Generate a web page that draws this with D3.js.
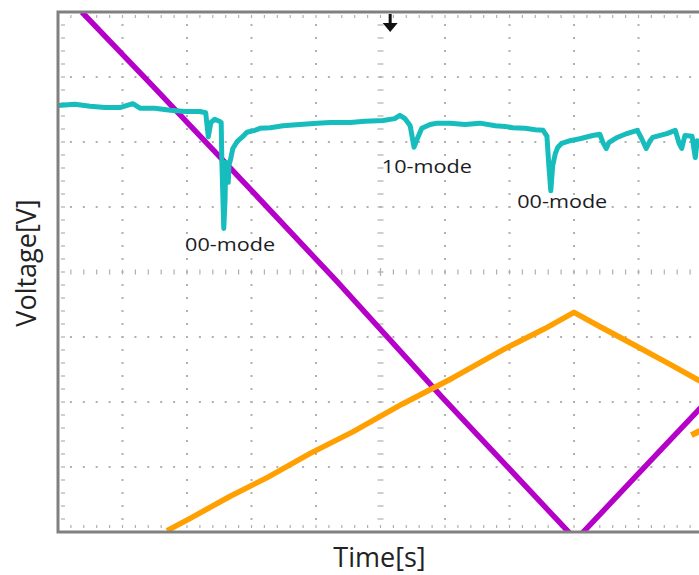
<!DOCTYPE html>
<html>
<head>
<meta charset="utf-8">
<script src="https://cdn.jsdelivr.net/npm/d3@7"></script>
<style>
  body { margin: 0; background: #fff; }
  svg { display: block; }
</style>
</head>
<body>
<div id="chart"></div>
<script>
// time in divisions, voltage in divisions (8 x 10 screen)
const cyanTrace = [
  [0.00,2.56],[0.26,2.58],[0.50,2.55],[0.73,2.53],[0.96,2.53],[1.16,2.59],[1.27,2.52],
  [1.50,2.52],[1.74,2.49],[1.97,2.47],[2.20,2.47],[2.29,2.45],[2.33,2.08],[2.37,2.30],
  [2.43,2.35],[2.50,2.32],[2.53,2.30],[2.54,1.72],[2.57,0.67],[2.59,1.10],[2.60,1.69],
  [2.62,1.56],[2.64,1.38],[2.65,1.64],[2.68,1.75],[2.71,1.90],[2.78,2.01],[2.85,2.07],
  [2.93,2.15],[3.05,2.18],[3.13,2.21],[3.29,2.22],[3.49,2.25],[3.75,2.27],[4.02,2.29],
  [4.22,2.30],[4.53,2.30],[4.76,2.32],[5.04,2.33],[5.22,2.36],[5.30,2.41],[5.38,2.36],
  [5.46,2.25],[5.52,1.92],[5.57,2.05],[5.64,2.21],[5.77,2.27],[5.88,2.29],[6.08,2.29],
  [6.31,2.27],[6.54,2.29],[6.78,2.25],[6.93,2.24],[7.05,2.22],[7.24,2.21],[7.40,2.19],
  [7.52,2.18],[7.58,2.09],[7.61,1.64],[7.64,1.25],[7.67,1.64],[7.71,1.82],[7.75,1.92],
  [7.81,1.98],[7.94,2.02],[8.09,2.05],[8.29,2.10],[8.40,2.12],[8.45,1.99],[8.50,1.90],
  [8.54,1.99],[8.67,2.07],[8.82,2.13],[8.98,2.18],[9.05,2.05],[9.12,1.90],[9.18,2.02],
  [9.22,2.07],[9.44,2.13],[9.57,2.18],[9.63,1.98],[9.67,1.90],[9.72,2.10],[9.83,2.09],
  [9.88,1.76],[9.91,2.02],[9.94,1.99],[10.0,2.00]
];

const magentaTrace = [
  [0.37,4.00],[1.46,2.87],[2.90,1.36],[4.31,-0.13],[5.95,-1.92],[8.03,-4.12],[9.02,-3.08],[10.0,-2.05]
];

const orangeTrace = [
  [1.69,-3.98],[2.05,-3.79],[2.67,-3.45],[3.25,-3.16],[3.91,-2.79],[4.57,-2.46],
  [5.34,-2.03],[6.12,-1.63],[6.91,-1.19],[7.55,-0.87],[8.00,-0.62],[8.42,-0.85],
  [8.95,-1.13],[9.49,-1.42],[9.94,-1.67],[10.0,-1.70]
];

const orangeTail = [[9.82,-2.51],[9.94,-2.45],[10.0,-2.43]];

const labels = [
  {text: '00-mode', t: 1.97, v: 0.33},
  {text: '10-mode', t: 5.02, v: 1.53},
  {text: '00-mode', t: 7.12, v: 0.99}
];

const triggerTime = 5.15;
const xDivs = 10, yDivs = 8, minorPerDiv = 5;

const width = 699, height = 575;
const frame = {left: 58, top: 12, right: 703, bottom: 532};

const svg = d3.select('#chart').append('svg')
  .attr('width', width)
  .attr('height', height)
  .attr('viewBox', `0 0 ${width} ${height}`);

const x = d3.scaleLinear().domain([0, xDivs]).range([frame.left, frame.right]);
const y = d3.scaleLinear().domain([-yDivs / 2, yDivs / 2]).range([frame.bottom, frame.top]);

svg.append('clipPath').attr('id', 'plot')
  .append('rect')
    .attr('x', frame.left).attr('y', frame.top)
    .attr('width', frame.right - frame.left)
    .attr('height', frame.bottom - frame.top);

// grid: dotted majors, ticked centre lines
const minorX = d3.range(0, xDivs * minorPerDiv + 1).map(i => i / minorPerDiv);
const minorY = d3.range(0, yDivs * minorPerDiv + 1).map(i => -yDivs / 2 + i / minorPerDiv);
const majorX = d3.range(1, xDivs).filter(d => d !== xDivs / 2);
const majorY = d3.range(-yDivs / 2 + 1, yDivs / 2).filter(d => d !== 0);

const grid = svg.append('g').attr('fill', '#b0b0b0');

majorY.forEach(v => {
  grid.selectAll(null).data(minorX.slice(1, -1)).join('rect')
    .attr('x', d => x(d) - 1).attr('y', y(v) - 1)
    .attr('width', 2).attr('height', 2);
});
majorX.forEach(t => {
  grid.selectAll(null).data(minorY.slice(1, -1)).join('rect')
    .attr('x', x(t) - 1).attr('y', d => y(d) - 1)
    .attr('width', 2).attr('height', 2);
});

const ticks = svg.append('g').attr('stroke', '#b0b0b0').attr('stroke-width', 1.2);

// centre horizontal line
ticks.selectAll(null).data(minorX.slice(1, -1)).join('line')
  .attr('x1', d => x(d)).attr('x2', d => x(d))
  .attr('y1', y(0) - 2.5).attr('y2', y(0) + 2.5);
// centre vertical line
ticks.selectAll(null).data(minorY.slice(1, -1)).join('line')
  .attr('x1', x(xDivs / 2) - 3).attr('x2', x(xDivs / 2) + 3)
  .attr('y1', d => y(d)).attr('y2', d => y(d));
ticks.append('line')
  .attr('x1', x(xDivs / 2)).attr('x2', x(xDivs / 2))
  .attr('y1', y(0) - 4).attr('y2', y(0) + 4);

// border ticks
ticks.selectAll(null).data(minorY.slice(1, -1)).join('line')
  .attr('x1', frame.left + 3).attr('x2', frame.left + 7)
  .attr('y1', d => y(d)).attr('y2', d => y(d));
ticks.selectAll(null).data(minorX.slice(1, -1)).join('line')
  .attr('x1', d => x(d)).attr('x2', d => x(d))
  .attr('y1', frame.top + 3).attr('y2', frame.top + 6);
ticks.selectAll(null).data(minorX.slice(1, -1)).join('line')
  .attr('x1', d => x(d)).attr('x2', d => x(d))
  .attr('y1', frame.bottom - 7).attr('y2', frame.bottom - 4);

// traces
const line = d3.line().x(d => x(d[0])).y(d => y(d[1]));

const traces = svg.append('g')
    .attr('clip-path', 'url(#plot)')
    .attr('fill', 'none')
    .attr('stroke-linejoin', 'round');

traces.append('path').datum(magentaTrace)
  .attr('stroke', '#b400c8').attr('stroke-width', 5.5).attr('d', line);
traces.append('path').datum(orangeTrace)
  .attr('stroke', '#ffa000').attr('stroke-width', 5.5).attr('d', line);
traces.append('path').datum(orangeTail)
  .attr('stroke', '#ffa000').attr('stroke-width', 6).attr('d', line);
traces.append('path').datum(cyanTrace)
  .attr('stroke', '#17bdbd').attr('stroke-width', 5).attr('d', line);

// frame
svg.append('rect')
  .attr('x', frame.left).attr('y', frame.top)
  .attr('width', frame.right - frame.left)
  .attr('height', frame.bottom - frame.top)
  .attr('fill', 'none')
  .attr('stroke', '#808080')
  .attr('stroke-width', 3);

// trigger marker
const tx = x(triggerTime);
svg.append('path')
  .attr('d', `M${tx - 1.5},${frame.top + 2}h3v9h6l-7.5,9l-7.5,-9h6z`)
  .attr('fill', '#111');

// annotations
svg.append('g')
    .attr('font-family', '"Open Sans", sans-serif')
    .attr('font-size', 19)
    .attr('fill', '#1c1c24')
  .selectAll('text')
  .data(labels)
  .join('text')
    .attr('x', d => x(d.t))
    .attr('y', d => y(d.v))
    .attr('textLength', 90)
    .attr('lengthAdjust', 'spacingAndGlyphs')
    .text(d => d.text);

// axis titles
svg.append('text')
  .attr('x', (frame.left + frame.right) / 2 - 1)
  .attr('y', 567)
  .attr('text-anchor', 'middle')
  .attr('font-family', '"Open Sans", sans-serif')
  .attr('font-size', 27)
  .attr('fill', '#222')
  .text('Time[s]');

svg.append('text')
  .attr('transform', `translate(36,${(frame.top + frame.bottom) / 2 - 9}) rotate(-90)`)
  .attr('text-anchor', 'middle')
  .attr('font-family', '"Open Sans", sans-serif')
  .attr('font-size', 27)
  .attr('fill', '#222')
  .text('Voltage[V]');
</script>
</body>
</html>
